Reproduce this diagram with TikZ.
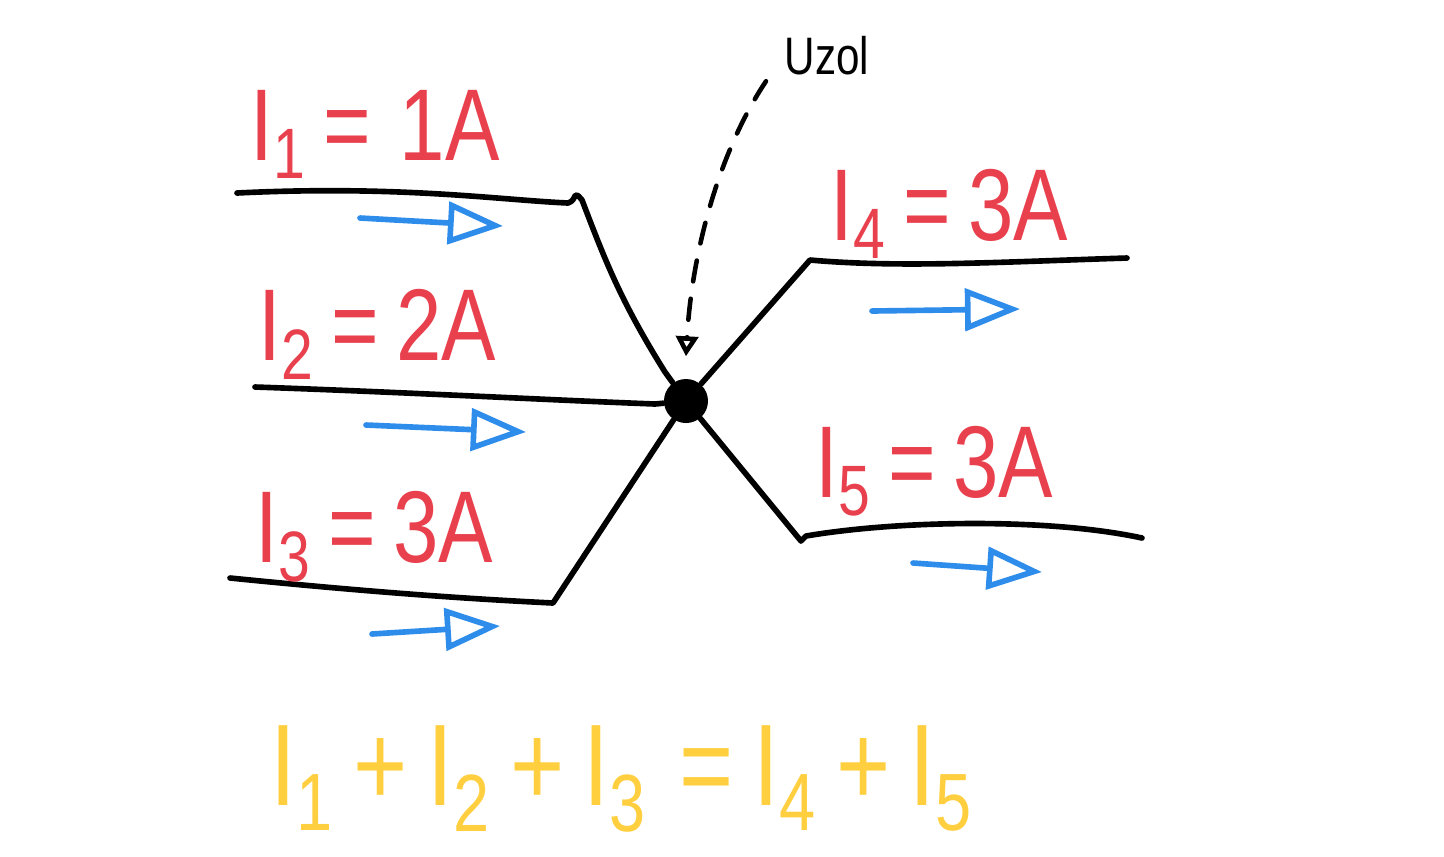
\documentclass[tikz,border=0pt]{standalone}
\usepackage{fontspec}
\setmainfont{Liberation Sans}
\newfontfamily\handfont[FakeStretch=0.8]{Liberation Sans}
\usetikzlibrary{arrows.meta, calc, positioning}
\definecolor{penred}{RGB}{233,64,78}
\definecolor{penblue}{RGB}{46,140,235}
\definecolor{penyellow}{RGB}{255,207,64}

\begin{document}
\begin{tikzpicture}[x=0.01cm, y=-0.01cm, line cap=round, line join=round,
    wire/.style={black, line width=1.6pt},
    flow/.style={penblue, line width=1.6pt, -{Triangle[open, length=0.55cm, width=0.42cm, line width=1.6pt]}},
    current/.style={penred, anchor=base west, inner sep=0pt, font=\handfont\fontsize{29}{32}\selectfont},
    pointer/.style={black, line width=1.3pt, dash pattern=on 6pt off 5pt, -{Triangle[open, length=0.2cm, width=0.22cm, line width=1.3pt]}}]
    \useasboundingbox (0,0) rectangle (1444,856);

    % Draw the junction
    \node[circle, fill=black, minimum size=0.44cm, inner sep=0pt] (junction) at (686,401) {};

    % Draw incoming wires
    \draw[wire] (237,193) .. controls (400,185) and (500,200) .. (568,203) .. controls (578,200) and (572,188) .. (582,200) .. controls (605,260) and (620,300) .. (665,372) -- (junction);
    \draw[wire] (255,387) .. controls (400,392) and (550,400) .. (655,404) -- (junction);
    \draw[wire] (230,578) .. controls (350,590) and (450,598) .. (553,603) -- (junction);

    % Draw outgoing wires
    \draw[wire] (junction) -- (810,260) .. controls (900,268) and (1000,262) .. (1127,258);
    \draw[wire] (junction) -- (801,541) -- (806,536) .. controls (900,520) and (1050,518) .. (1142,538);

    % Draw current arrows
    \draw[flow] (360,218) -- (503,226);
    \draw[flow] (366,425) -- (526,432);
    \draw[flow] (372,634) -- (500,626);
    \draw[flow] (872,311) -- (1020,309);
    \draw[flow] (913,563) -- (1042,572);

    % Draw current labels
    \node[current] (lab1) at (250,160) {I\textsubscript{1}\,=\;1A};
    \node[current] (lab2) at (258,360) {I\textsubscript{2}\,=\,2A};
    \node[current] (lab3) at (255,562) {I\textsubscript{3}\,=\,3A};
    \node[current] (lab4) at (830,240) {I\textsubscript{4}\,=\,3A};
    \node[current] (lab5) at (815,497) {I\textsubscript{5}\,=\,3A};

    % Draw node label and pointer
    \node[anchor=base west, inner sep=0pt, font=\handfont\fontsize{15}{18}\selectfont] (note) at (784,74) {Uzol};
    \draw[pointer] ($(note.south west)+(-18,6)$) .. controls (720,150) and (692,250) .. ($(junction.north)+(0,-22)$);

    % Draw Kirchhoff sum
    \node[penyellow, anchor=base west, inner sep=0pt, font=\handfont\fontsize{33}{38}\selectfont] (law) at (270,805)
        {I\textsubscript{1}\,+\,I\textsubscript{2}\,+\,I\textsubscript{3}\;=\,I\textsubscript{4}\,+\,I\textsubscript{5}};

\end{tikzpicture}
\end{document}
